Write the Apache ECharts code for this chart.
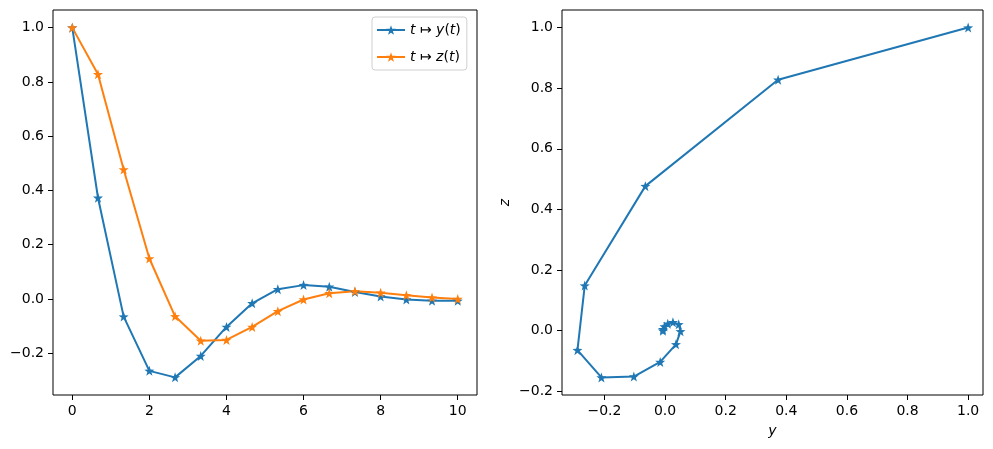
<!DOCTYPE html>
<html>
<head>
<meta charset="utf-8">
<script src="https://cdn.jsdelivr.net/npm/echarts@6/dist/echarts.min.js"></script>
<style>
  html, body { margin: 0; padding: 0; background: #fff; }
  #main { width: 993px; height: 449px; }
</style>
</head>
<body>
<div id="main"></div>
<script>
// time grid and the two solution components
var tVals = [0, 0.667, 1.333, 2, 2.667, 3.333, 4, 4.667, 5.333, 6, 6.667, 7.333, 8, 8.667, 9.333, 10];
var yVals = [1.0, 0.373, -0.065, -0.265, -0.289, -0.210, -0.103, -0.016, 0.036, 0.051, 0.045, 0.026, 0.009, -0.002, -0.007, -0.007];
var zVals = [1.0, 0.828, 0.477, 0.149, -0.064, -0.154, -0.151, -0.103, -0.045, -0.002, 0.021, 0.028, 0.023, 0.014, 0.005, 0.0];

// tick labels
var tTicks = [0, 2, 4, 6, 8, 10];
var leftYTicks = [-0.2, 0, 0.2, 0.4, 0.6, 0.8, 1.0];
var rightXTicks = [-0.2, 0, 0.2, 0.4, 0.6, 0.8, 1.0];
var rightYTicks = [-0.2, 0, 0.2, 0.4, 0.6, 0.8, 1.0];

var C0 = '#1f77b4', C1 = '#ff7f0e';
var star = 'path://M0,-10L2.35,-3.24L9.51,-3.09L3.8,1.24L5.88,8.09L0,4L-5.88,8.09L-3.8,1.24L-9.51,-3.09L-2.35,-3.24Z';
var font = 'DejaVu Sans';

function fmt1(v) { return v.toFixed(1).replace('-', '\u2212'); }
function fmt0(v) { return String(Math.round(v)).replace('-', '\u2212'); }

function pairs(xs, ys) {
    var out = [];
    for (var i = 0; i < xs.length; i++) { out.push([xs[i], ys[i]]); }
    return out;
}

function valueAxis(idx, min, max, ticks, formatter, extra) {
    var ax = {
        type: 'value',
        gridIndex: idx,
        min: min,
        max: max,
        splitLine: { show: false },
        axisLine: { show: false, onZero: false },
        axisTick: { show: true, length: 5, lineStyle: { color: '#000', width: 1 }, customValues: ticks },
        axisLabel: { color: '#000', fontFamily: font, fontSize: 14, margin: 9, customValues: ticks, formatter: formatter }
    };
    for (var k in extra) { ax[k] = extra[k]; }
    return ax;
}

var myChart = echarts.init(document.getElementById('main'));

var option = {
    animation: false,
    backgroundColor: '#fff',
    grid: [
        { left: 53, top: 10, width: 424, height: 385, show: true, borderColor: '#000', borderWidth: 1 },
        { left: 562, top: 10, width: 421, height: 385, show: true, borderColor: '#000', borderWidth: 1 }
    ],
    legend: {
        orient: 'vertical',
        left: 372,
        top: 17,
        padding: [6, 6, 6, 4],
        itemWidth: 28,
        itemHeight: 12,
        itemGap: 13,
        borderColor: '#d0d0d0',
        borderWidth: 1,
        borderRadius: 3,
        backgroundColor: 'rgba(255,255,255,0.8)',
        data: ['y', 'z'],
        formatter: function (name) {
            return '{i|t} \u21a6 {i|' + name + '}({i|t})';
        },
        textStyle: {
            color: '#000', fontFamily: font, fontSize: 14,
            rich: { i: { fontStyle: 'italic', fontFamily: font, fontSize: 14, color: '#000' } }
        }
    },
    xAxis: [
        valueAxis(0, -0.5, 10.5, tTicks, fmt0, {}),
        valueAxis(1, -0.340, 1.049, rightXTicks, fmt1, {
            name: 'y', nameLocation: 'middle', nameGap: 29,
            nameTextStyle: { fontFamily: font, fontSize: 14, fontStyle: 'italic', color: '#000' }
        })
    ],
    yAxis: [
        valueAxis(0, -0.354, 1.065, leftYTicks, fmt1, {}),
        valueAxis(1, -0.212, 1.058, rightYTicks, fmt1, {
            name: 'z', nameLocation: 'middle', nameGap: 50, nameRotate: 90,
            nameTextStyle: { fontFamily: font, fontSize: 14, fontStyle: 'italic', color: '#000' }
        })
    ],
    series: [{
        name: 'y',
        type: 'line',
        xAxisIndex: 0, yAxisIndex: 0,
        data: pairs(tVals, yVals),
        symbol: star, symbolSize: 10,
        lineStyle: { color: C0, width: 2 },
        itemStyle: { color: C0 }
    }, {
        name: 'z',
        type: 'line',
        xAxisIndex: 0, yAxisIndex: 0,
        data: pairs(tVals, zVals),
        symbol: star, symbolSize: 10,
        lineStyle: { color: C1, width: 2 },
        itemStyle: { color: C1 }
    }, {
        name: 'phase',
        type: 'line',
        xAxisIndex: 1, yAxisIndex: 1,
        data: pairs(yVals, zVals),
        symbol: star, symbolSize: 10,
        lineStyle: { color: C0, width: 2 },
        itemStyle: { color: C0 }
    }]
};

myChart.setOption(option);
</script>
</body>
</html>
